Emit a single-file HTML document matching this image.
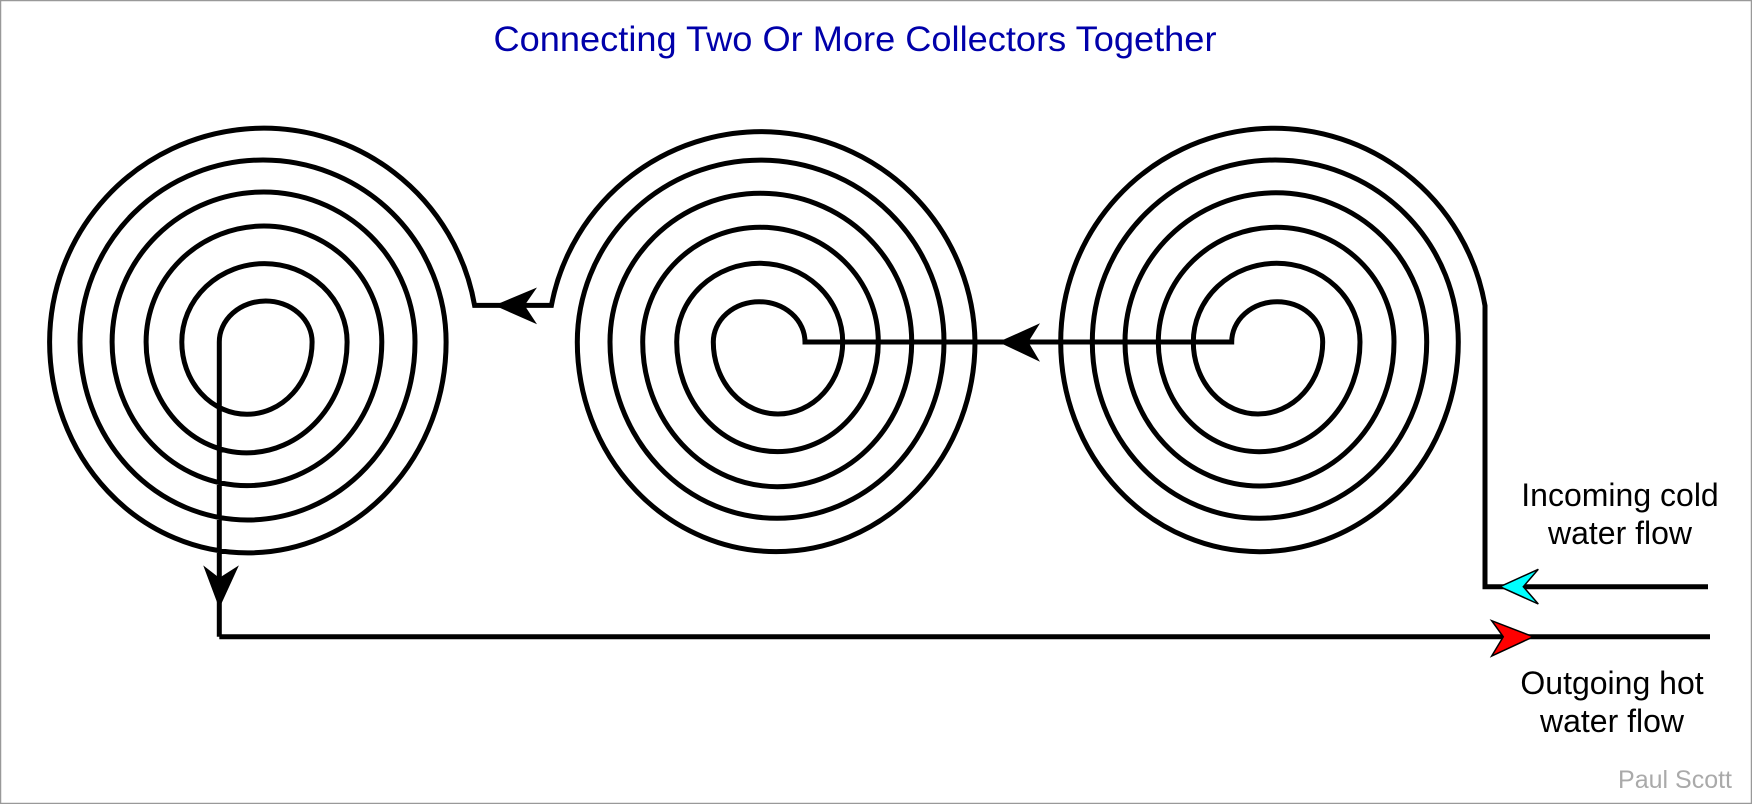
<!DOCTYPE html>
<html><head><meta charset="utf-8"><style>
html,body{margin:0;padding:0;background:#fff;}
svg{display:block;}
</style></head><body>
<svg width="1752" height="804" viewBox="0 0 1752 804" xmlns="http://www.w3.org/2000/svg">
<rect x="0.5" y="0.5" width="1751" height="803" fill="#fff" stroke="#999" stroke-width="1.5"/>
<text x="855" y="51" font-family="Liberation Sans, Arial, sans-serif" font-size="35" fill="#0000aa" text-anchor="middle" textLength="723" lengthAdjust="spacingAndGlyphs">Connecting Two Or More Collectors Together</text>
<g fill="none" stroke="#000" stroke-width="5" stroke-linejoin="miter">
<path d="M219.3,636.8 L219.3,342
A46.4,41 0 0 1 312.1,342
A65.15,72.3 0 0 1 181.8,342
A82.65,78.4 0 0 1 347.1,342
A100.5,110.9 0 0 1 146.1,342
A117.85,116 0 0 1 381.8,342
A134.85,143.7 0 0 1 112.1,342
A151.45,150 0 0 1 415,342
A167.5,178 0 0 1 80,342
A183.05,182 0 0 1 446.1,342
A198.25,210.9 0 0 1 49.6,342
A214.1,214.1 0 0 1 474.6,305.4
L551.4,305.4
A213.7,213.7 0 0 1 975,342
A198.85,209.7 0 0 1 577.3,342
A183.35,182 0 0 1 944,342
A167,176.3 0 0 1 610,342
A150.85,148.7 0 0 1 911.7,342
A134.5,144.7 0 0 1 642.7,342
A117.8,114.7 0 0 1 878.3,342
A100.8,109.7 0 0 1 676.7,342
A83,78.7 0 0 1 842.7,342
A64.7,72 0 0 1 713.3,342
A45.85,40.3 0 0 1 805,342
L1231.7,342
A45.5,40.3 0 0 1 1322.7,342
A64.7,72 0 0 1 1193.3,342
A83.35,78.7 0 0 1 1360,342
A100.85,109.7 0 0 1 1158.3,342
A117.85,114.7 0 0 1 1394,342
A134.5,144 0 0 1 1125,342
A150.85,149.3 0 0 1 1426.7,342
A167.2,176.3 0 0 1 1092.3,342
A183,182 0 0 1 1458.3,342
A198.8,209.7 0 0 1 1060.7,342
A213.7,213.7 0 0 1 1485,305.7
L1485,586.7 L1708,586.7"/>
<path d="M219.3,636.8 L1710,636.8"/>
</g>
<polygon points="998.3,342 1040,323.3 1028.3,342 1040,361.7" fill="#000"/>
<polygon points="494.3,305.4 537,287.5 524.6,305.4 537,324.3" fill="#000"/>
<polygon points="219.3,608.2 203.2,565.4 219.3,577.9 238.9,565.4" fill="#000"/>
<polygon points="1500,586.7 1538.3,569.3 1523.3,586.7 1538.3,604" fill="#00ffff" stroke="#000" stroke-width="1.5"/>
<polygon points="1533.3,636.8 1491.7,620.7 1503.3,636.8 1491.7,656" fill="#ff0000" stroke="#000" stroke-width="1.5"/>
<g font-family="Liberation Sans, Arial, sans-serif" font-size="32" fill="#000" text-anchor="middle">
<text x="1620" y="506">Incoming cold</text>
<text x="1620" y="544">water flow</text>
<text x="1612" y="694">Outgoing hot</text>
<text x="1612" y="732">water flow</text>
</g>
<text x="1732" y="788" font-family="Liberation Sans, Arial, sans-serif" font-size="25" fill="#aaa" text-anchor="end">Paul Scott</text>
</svg>
</body></html>
